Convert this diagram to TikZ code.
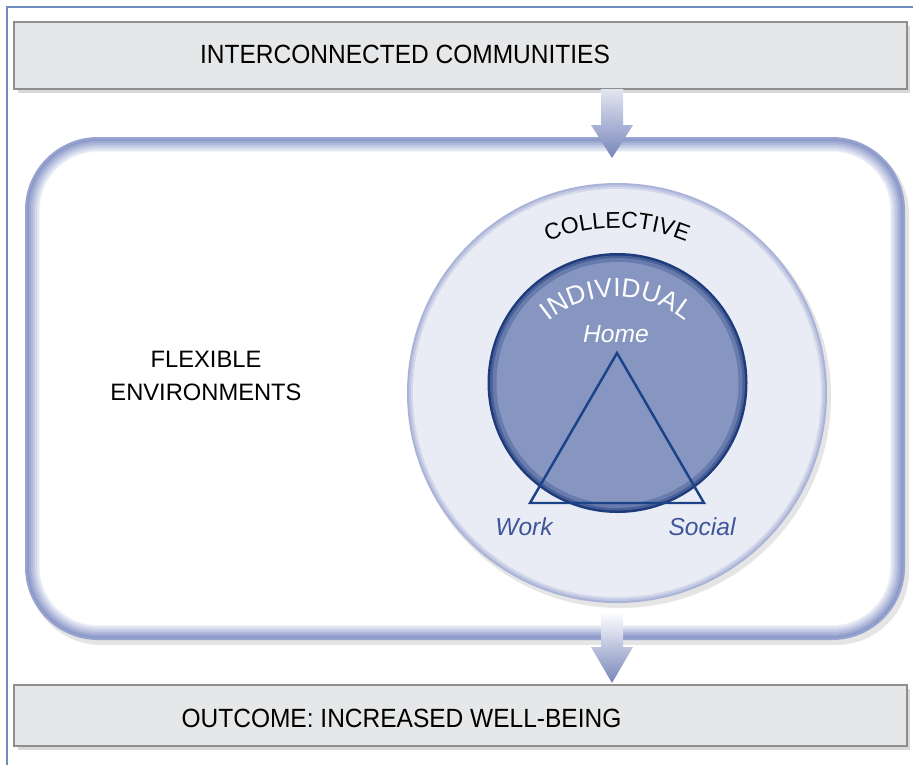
\documentclass[tikz,border=0pt]{standalone}
\usepackage{fontspec}
\setmainfont{Liberation Sans}
\newfontfamily\condfont[FakeStretch=0.93]{Liberation Sans}
\usetikzlibrary{positioning,shadows,decorations.text}

\definecolor{framecol}{HTML}{6C8DBE}
\definecolor{boxfill}{HTML}{E6E7E8}
\definecolor{boxline}{HTML}{8F8F8F}
\definecolor{ringblue}{HTML}{8D9ACA}
\definecolor{collfill}{HTML}{E9ECF4}
\definecolor{collring}{HTML}{A9B2D7}
\definecolor{indfill}{HTML}{8696C1}
\definecolor{indedge}{HTML}{1E3C7B}
\definecolor{triline}{HTML}{1C4387}
\definecolor{labblue}{HTML}{3F569A}
\definecolor{arrowtop}{HTML}{E3E6F1}
\definecolor{arrowbot}{HTML}{7785BA}

\newcommand\collfont{\fontsize{13}{15}\selectfont}
\newcommand\indfont{\fontsize{15}{18}\selectfont}

\tikzset{
  bar/.style={rectangle, draw=boxline, line width=1.2pt, fill=boxfill,
    minimum width=17.86cm, drop shadow={shadow xshift=2pt, shadow yshift=-2pt, opacity=0.3}},
  bartext/.style={font=\condfont\fontsize{15}{18}\selectfont, anchor=base},
  italab/.style={font=\itshape\fontsize{14}{17}\selectfont, anchor=base}
}

\begin{document}
\begin{tikzpicture}[x=0.02cm, y=-0.02cm]
\useasboundingbox (0,0) rectangle (913,765);
\draw[framecol, line width=0.6pt] (7,765) -- (7,7) -- (913,7);

% bars at top and bottom
\node[bar, minimum height=1.34cm] (top) at (460.5,55.5) {};
\node[bar, minimum height=1.22cm] (out) at (460.5,715.5) {};
\node[bartext] (toptext) at (405,63) {INTERCONNECTED COMMUNITIES};
\node[bartext] (outtext) at (401.5,727) {OUTCOME: INCREASED WELL-BEING};

% environment box
\fill[black!10, rounded corners=1.46cm] (28,141) rectangle (909,645);
\fill[ringblue!90!white, rounded corners=1.46cm] (25,137) rectangle (905,640);
\fill[ringblue, rounded corners=1.42cm] (27,139) rectangle (903,638);
\fill[ringblue!85!white, rounded corners=1.38cm] (29,141) rectangle (901,636);
\fill[ringblue!70!white, rounded corners=1.34cm] (31,143) rectangle (899,634);
\fill[ringblue!55!white, rounded corners=1.30cm] (33,145) rectangle (897,632);
\fill[ringblue!40!white, rounded corners=1.26cm] (35,147) rectangle (895,630);
\fill[ringblue!25!white, rounded corners=1.22cm] (37,149) rectangle (893,628);
\fill[ringblue!10!white, rounded corners=1.18cm] (39,151) rectangle (891,626);
\fill[white, rounded corners=1.16cm] (40,152) rectangle (890,625);
\node[align=center, font=\fontsize{13.5}{18.7}\selectfont] (flex) at (206,376) {FLEXIBLE\\ENVIRONMENTS};

% collective
\fill[black!10] (620,397) circle[radius=211];
\fill[collring] (617,393) circle[radius=210];
\fill[collring!65!collfill] (617,393) circle[radius=208];
\fill[collring!35!collfill] (617,393) circle[radius=206];
\fill[collfill] (617,393) circle[radius=204];
\path[decorate, decoration={text along path, text align=center,
  text={|\collfont|COLLECTIVE}}] (617,410) ++(200:182) arc[start angle=200, end angle=340, radius=182];

% individual
\fill[indedge] (617.5,383) circle[radius=130];
\fill[indedge!60!indfill] (617.5,383) circle[radius=127.5];
\fill[indedge!30!indfill] (617.5,383) circle[radius=125];
\fill[indfill] (617.5,383) circle[radius=121];
\path[decorate, decoration={text along path, text align=center, text color=white,
  text={|\indfont|INDIVIDUAL}}] (617,405) ++(205:108) arc[start angle=205, end angle=335, radius=108];

% triangle
\coordinate (apex) at (617,353);
\coordinate (wk) at (530,503);
\coordinate (so) at (704,503);
\draw[triline, line width=1.4pt] (apex) -- (so) -- (wk) -- cycle;
\node[italab, white] (home) at (616,342) {Home};
\node[italab, labblue] (work) at (524,535) {Work};
\node[italab, labblue] (social) at (702,535) {Social};

% arrows
\coordinate (in1) at (612,89);
\coordinate (in2) at (612,612);
\shade[top color=arrowtop, bottom color=arrowbot] (in1) +(-11,0) -- +(-11,36) -- +(-21,36)
   -- +(0,69) -- +(21,36) -- +(11,36) -- +(11,0) -- cycle;
\shade[top color=white, bottom color=arrowbot] (in2) +(-11,0) -- +(-11,35) -- +(-21,35)
   -- +(0,71) -- +(21,35) -- +(11,35) -- +(11,0) -- cycle;
\end{tikzpicture}
\end{document}
